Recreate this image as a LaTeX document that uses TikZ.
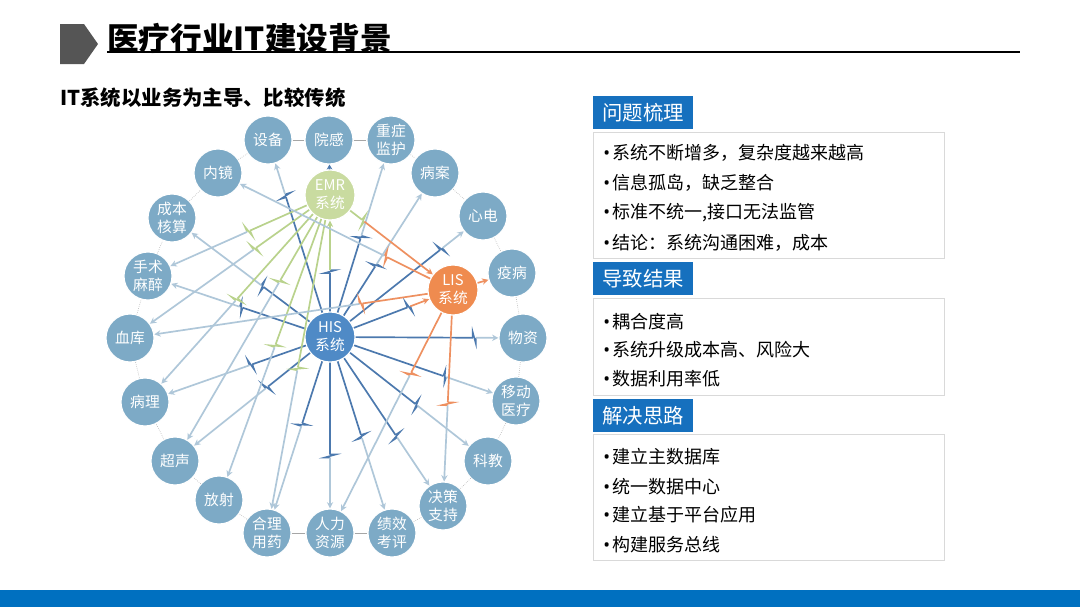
\documentclass[tikz,border=0pt]{standalone}
\usepackage{fontspec}
\setmainfont{Noto Sans CJK SC}
\newfontfamily\dotfont{Noto Sans}
\usetikzlibrary{arrows.meta,calc,decorations.markings}
\definecolor{ringblue}{HTML}{7DAAC6}
\definecolor{hisblue}{HTML}{4F8AC6}
\definecolor{emrgreen}{HTML}{C9DBA0}
\definecolor{lisorange}{HTML}{EF8B4F}
\definecolor{darkwire}{HTML}{4C79AE}
\definecolor{lightwire}{HTML}{AFC7D9}
\definecolor{greenwire}{HTML}{B9D28C}
\definecolor{orangewire}{HTML}{EE9060}
\definecolor{headblue}{HTML}{1670BE}
\definecolor{barblue}{HTML}{0070C0}
\definecolor{titlegray}{HTML}{555555}

\tikzset{
  sysnode/.style={circle, fill=ringblue, draw=white, line width=0.8pt, minimum size=1.2cm,
    inner sep=0pt, text=white, align=center, font=\fontsize{10.5}{12.8}\selectfont},
  core/.style={sysnode, minimum size=1.25cm},
  ringline/.style={draw=black!35, line width=0.4pt},
  wire/.style={line width=1.2pt},
  tip/.style={-{Stealth[length=4.5pt,width=4.5pt]}},
  headbox/.style={fill=headblue, text=white, anchor=north west, minimum width=2.5cm,
    minimum height=0.825cm, inner sep=0pt, font=\fontsize{14.5}{17}\selectfont},
  listbox/.style={draw=black!15, line width=0.6pt},
  item/.style={anchor=west, inner sep=0pt, font=\fontsize{12.8}{15}\selectfont},
}

\newcommand{\bul}{{\dotfont •}\hspace{1.5pt}}

% from, to, where the break sits, colour before, colour after
\newcommand{\link}[5]{%
  \coordinate (mid) at ($(#1)!#3!(#2)$);
  \draw[wire, #4, postaction={decorate}, decoration={markings, mark=at position 0.999 with
    {\draw[#4, line width=1.1pt, line join=miter] (0,0) -- (0,4pt) -- (2.2pt,-4pt) -- (2.2pt,0);}}]
    (#1) -- (mid);
  \draw[wire, #5, tip] ($(mid)!2.2pt!(#2)$) -- (#2);
}

\begin{document}
\begin{tikzpicture}[x=0.025cm, y=-0.025cm]
  \fill[white] (0,0) rectangle (1080,607);
  \useasboundingbox (0,0) rectangle (1080,607);

  % title
  \fill[titlegray] (60,24) -- (84,24) -- (98,44) -- (84,64) -- (60,64) -- cycle;
  \node[anchor=west, inner sep=0pt, font=\fontsize{22.5}{26}\selectfont\bfseries] (title) at (107,38) {医疗行业IT建设背景};
  \draw[line width=1.2pt] (107,52) -- (1020,52);
  \node[anchor=west, inner sep=0pt, font=\fontsize{14.5}{17}\selectfont\bfseries] (subtitle) at (60,98) {IT系统以业务为主导、比较传统};

  % outer ring
  \node[sysnode] (shebei) at (268,140) {设备};
  \node[sysnode] (yuangan) at (329,140) {院感};
  \node[sysnode] (zhongzheng) at (391,140) {重症\\监护};
  \node[sysnode] (bingan) at (435,173) {病案};
  \node[sysnode] (xindian) at (483,216) {心电};
  \node[sysnode] (yibing) at (512,273) {疫病};
  \node[sysnode] (wuzi) at (523,338) {物资};
  \node[sysnode] (yidong) at (516,401) {移动\\医疗};
  \node[sysnode] (kejiao) at (488,461) {科教};
  \node[sysnode] (juece) at (443,506) {决策\\支持};
  \node[sysnode] (jixiao) at (392,533) {绩效\\考评};
  \node[sysnode] (renli) at (330,533) {人力\\资源};
  \node[sysnode] (heli) at (267,533) {合理\\用药};
  \node[sysnode] (fangshe) at (219,500) {放射};
  \node[sysnode] (chaosheng) at (175,461) {超声};
  \node[sysnode] (bingli) at (145,402) {病理};
  \node[sysnode] (xueku) at (130,338) {血库};
  \node[sysnode] (shoushu) at (148,276) {手术\\麻醉};
  \node[sysnode] (chengben) at (172,218) {成本\\核算};
  \node[sysnode] (neijing) at (218,173) {内镜};

  \foreach \a/\b in {shebei/yuangan, yuangan/zhongzheng, heli/renli, renli/jixiao}
    \draw[ringline] (\a) -- (\b);
  \foreach \a/\b in {zhongzheng/bingan, bingan/xindian, xindian/yibing, yibing/wuzi, wuzi/yidong,
      yidong/kejiao, kejiao/juece, juece/jixiao, heli/fangshe, fangshe/chaosheng,
      chaosheng/bingli, bingli/xueku, xueku/shoushu, shoushu/chengben, chengben/neijing, neijing/shebei}
    \draw[ringline, densely dotted] (\a) -- (\b);

  % core systems
  \node[core, fill=hisblue] (his) at (330,337) {HIS\\系统};
  \node[core, fill=emrgreen] (emr) at (330,195) {EMR\\系统};
  \node[core, fill=lisorange] (lis) at (453,290) {LIS\\系统};

  % HIS
  \link{his}{shebei}{0.71}{darkwire}{lightwire}
  \link{his}{emr}{0.45}{darkwire}{greenwire}
  \link{his}{zhongzheng}{0.5}{darkwire}{lightwire}
  \link{his}{bingan}{0.43}{darkwire}{lightwire}
  \link{his}{xindian}{0.72}{darkwire}{lightwire}
  \link{his}{lis}{0.63}{darkwire}{orangewire}
  \link{his}{wuzi}{0.74}{darkwire}{lightwire}
  \link{his}{yidong}{0.61}{darkwire}{lightwire}
  \link{his}{kejiao}{0.54}{darkwire}{lightwire}
  \link{his}{juece}{0.58}{darkwire}{lightwire}
  \link{his}{jixiao}{0.5}{darkwire}{lightwire}
  \link{his}{renli}{0.6}{darkwire}{lightwire}
  \link{his}{heli}{0.44}{darkwire}{lightwire}
  \link{his}{chaosheng}{0.4}{darkwire}{lightwire}
  \link{his}{bingli}{0.42}{darkwire}{lightwire}
  \link{his}{shoushu}{0.48}{darkwire}{lightwire}
  \link{his}{chengben}{0.42}{darkwire}{lightwire}

  % EMR
  \link{emr}{shoushu}{0.44}{greenwire}{lightwire}
  \link{emr}{xueku}{0.37}{greenwire}{lightwire}
  \link{emr}{bingli}{0.5}{greenwire}{lightwire}
  \link{emr}{chaosheng}{0.32}{greenwire}{lightwire}
  \link{emr}{fangshe}{0.49}{greenwire}{lightwire}
  \link{emr}{heli}{0.51}{greenwire}{lightwire}
  \link{emr}{lis}{0.26}{greenwire}{orangewire}
  \draw[wire, darkwire, -{Stealth[length=3.5pt,width=4pt]}] (emr) -- (yuangan);

  % LIS
  \link{lis}{neijing}{0.28}{orangewire}{lightwire}
  \link{lis}{xueku}{0.28}{orangewire}{lightwire}
  \link{lis}{renli}{0.34}{orangewire}{lightwire}
  \link{lis}{juece}{0.52}{orangewire}{lightwire}
  \draw[wire, orangewire, tip] (lis) -- (yibing);

  % right hand panel
  \node[headbox] (wenti) at (593,96) {问题梳理};
  \draw[listbox] (593,132) rectangle (944,258);
  \node[item] (w1) at (603,153) {\bul 系统不断增多，复杂度越来越高};
  \node[item] (w2) at (603,183) {\bul 信息孤岛，缺乏整合};
  \node[item] (w3) at (603,213) {\bul 标准不统一,接口无法监管};
  \node[item] (w4) at (603,243) {\bul 结论：系统沟通困难，成本};

  \node[headbox] (jieguo) at (593,262) {导致结果};
  \draw[listbox] (593,298) rectangle (944,395);
  \node[item] (j1) at (603,322) {\bul 耦合度高};
  \node[item] (j2) at (603,350) {\bul 系统升级成本高、风险大};
  \node[item] (j3) at (603,379) {\bul 数据利用率低};

  \node[headbox] (silu) at (593,399) {解决思路};
  \draw[listbox] (593,434) rectangle (944,560);
  \node[item] (s1) at (603,457) {\bul 建立主数据库};
  \node[item] (s2) at (603,487) {\bul 统一数据中心};
  \node[item] (s3) at (603,515) {\bul 建立基于平台应用};
  \node[item] (s4) at (603,545) {\bul 构建服务总线};

  \fill[barblue] (0,590) rectangle (1080,607);
\end{tikzpicture}
\end{document}
